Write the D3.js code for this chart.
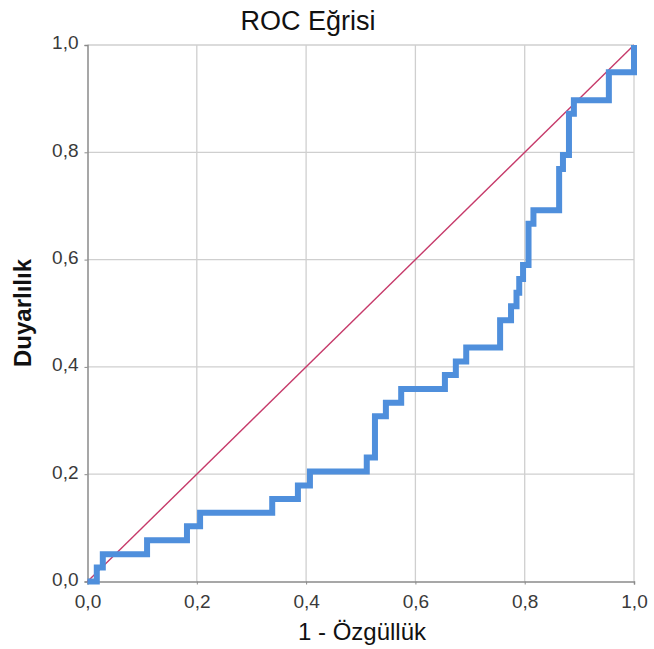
<!DOCTYPE html>
<html>
<head>
<meta charset="utf-8">
<script src="https://cdn.jsdelivr.net/npm/d3@7"></script>
<style>
  html, body { margin: 0; padding: 0; background: #fff; }
  svg { display: block; font-family: "Liberation Sans", Arial, sans-serif; }
</style>
</head>
<body>
<svg id="chart" width="654" height="649"></svg>
<script>
// ---- Data ----
const titleText = "ROC Eğrisi";
const xLabel = "1 - Özgüllük";
const yLabel = "Duyarlılık";
const tickValues = [0, 0.2, 0.4, 0.6, 0.8, 1.0];
const tickLabels = ["0,0", "0,2", "0,4", "0,6", "0,8", "1,0"];
// ROC steps: at each fpr the curve jumps up to tpr
const fpr = [0, 0.017, 0.028, 0.109, 0.182, 0.206, 0.338, 0.385, 0.407, 0.511, 0.526, 0.546, 0.574, 0.654, 0.674, 0.693, 0.755, 0.775, 0.785, 0.790, 0.797, 0.807, 0.816, 0.863, 0.870, 0.881, 0.890, 0.954, 1.0];
const tpr = [0, 0.026, 0.051, 0.077, 0.103, 0.128, 0.154, 0.179, 0.205, 0.231, 0.308, 0.333, 0.359, 0.385, 0.410, 0.436, 0.487, 0.513, 0.538, 0.564, 0.590, 0.667, 0.692, 0.769, 0.795, 0.872, 0.897, 0.949, 1.0];
const refLine = [[0, 0], [1, 1]];

const W = 654, H = 649;
const margin = { left: 87.5, right: 20, top: 45, bottom: 67.5 };
const svg = d3.select("#chart");
const x = d3.scaleLinear().domain([0, 1]).range([margin.left, W - margin.right]);
const y = d3.scaleLinear().domain([0, 1]).range([H - margin.bottom, margin.top]);

// grid
const g = svg.append("g");
g.selectAll(".vg").data(tickValues.slice(1)).join("line")
  .attr("x1", d => x(d)).attr("x2", d => x(d))
  .attr("y1", y(0)).attr("y2", y(1))
  .attr("stroke", "#cfcfcf").attr("stroke-width", 1.3);
g.selectAll(".hg").data(tickValues.slice(1)).join("line")
  .attr("y1", d => y(d)).attr("y2", d => y(d))
  .attr("x1", x(0)).attr("x2", x(1))
  .attr("stroke", "#cfcfcf").attr("stroke-width", 1.3);

// axes
const xAxis = d3.axisBottom(x).tickValues(tickValues).tickFormat((d, i) => tickLabels[i]).tickSize(3).tickPadding(10);
const yAxis = d3.axisLeft(y).tickValues(tickValues).tickFormat((d, i) => tickLabels[i]).tickSize(3).tickPadding(6);
const gx = svg.append("g").attr("transform", `translate(0,${y(0)})`).call(xAxis);
const gy = svg.append("g").attr("transform", `translate(${x(0)},0)`).call(yAxis);
[gx, gy].forEach(a => {
  a.select(".domain").attr("stroke", "#8a8a8a").attr("stroke-width", 1.5);
  a.selectAll(".tick line").attr("stroke", "#8a8a8a");
  a.selectAll(".tick text").attr("fill", "#3a3a3a").style("font-size", "19px")
    .style("font-family", "'Liberation Sans', Arial, sans-serif");
});
gy.selectAll(".tick text").attr("dy", "0.2em");

// reference diagonal
svg.append("path")
  .datum(refLine)
  .attr("d", d3.line().x(d => x(d[0])).y(d => y(d[1])))
  .attr("fill", "none").attr("stroke", "#c63a6a").attr("stroke-width", 1.4);

// ROC curve
const pts = fpr.map((f, i) => [f, tpr[i]]);
svg.append("path")
  .datum(pts)
  .attr("d", d3.line().x(d => x(d[0])).y(d => y(d[1])).curve(d3.curveStepAfter))
  .attr("fill", "none").attr("stroke", "#4f8fdc").attr("stroke-width", 6)
  .attr("stroke-linejoin", "miter");

// titles
svg.append("text").attr("x", 308).attr("y", 30).attr("text-anchor", "middle")
  .style("font-size", "27px").attr("fill", "#111").text(titleText);
svg.append("text").attr("x", 362).attr("y", 640).attr("text-anchor", "middle")
  .style("font-size", "24px").attr("fill", "#111").text(xLabel);
svg.append("text").attr("transform", `translate(31,313) rotate(-90)`).attr("text-anchor", "middle")
  .style("font-size", "24px").style("font-weight", "bold").attr("fill", "#111").text(yLabel);
</script>
</body>
</html>
